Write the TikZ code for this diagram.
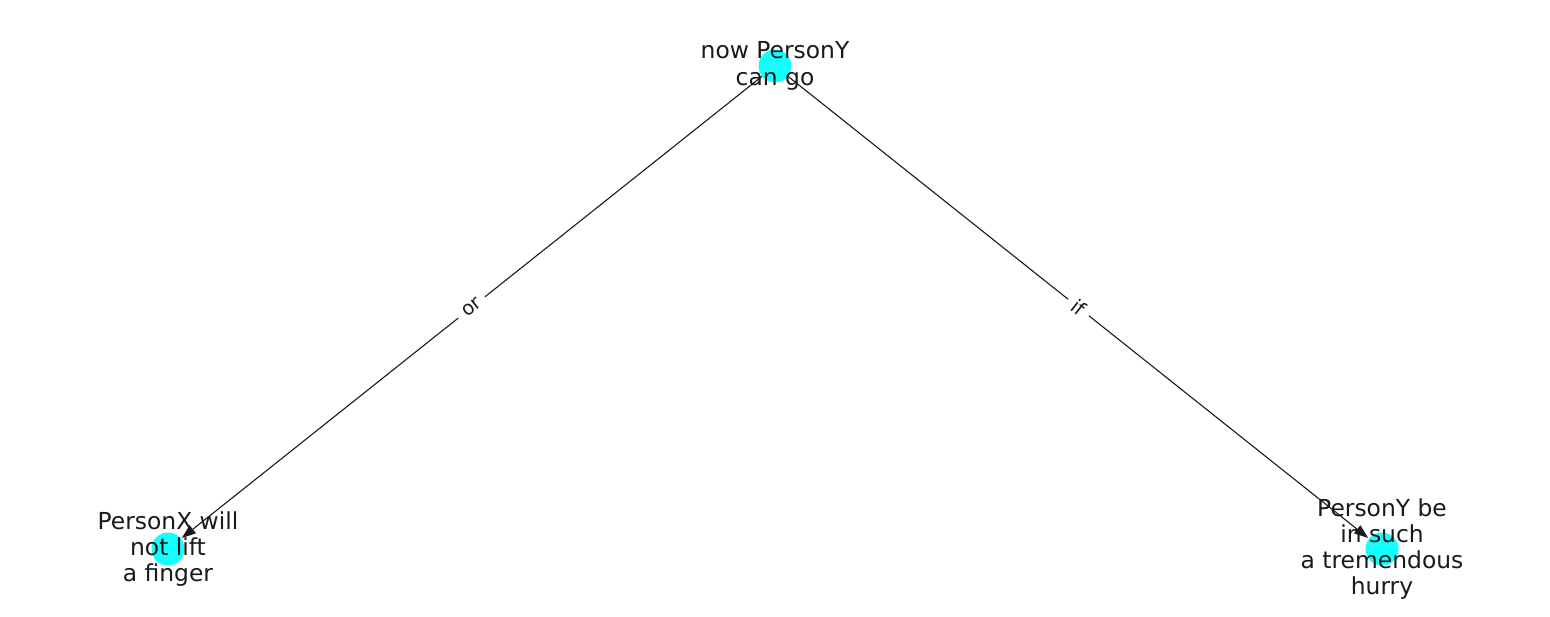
\documentclass[tikz,border=0pt]{standalone}
\usepackage{fontspec}
\setmainfont{DejaVu Sans}
\usetikzlibrary{positioning, calc}
\usetikzlibrary{arrows.meta}
\definecolor{nodecyan}{HTML}{12FFFF}
\definecolor{inkgray}{HTML}{1A1A1A}

\begin{document}
\begin{tikzpicture}[x=1pt,y=-1pt,draw=inkgray,text=inkgray]
	\def \toprow{66}
	\def \botrow{549}
	\tikzstyle{c-node}=[circle,fill=nodecyan,draw=none,inner sep=0pt,minimum size=33pt]
	\tikzstyle{annot} = [align=center,font=\fontsize{23.4}{26.3}\selectfont]
	\tikzstyle{rel} = [-{Triangle[length=14pt,width=10pt]},line width=1.1pt,shorten >=1pt]
	\tikzstyle{rel-label} = [fill=white,inner sep=7pt,sloped,midway,font=\fontsize{19.5}{21}\selectfont]
	\useasboundingbox (0,0) rectangle (1550,616);

	% nodes
	\node[c-node]	(go)	at (775,\toprow)	{};
	\node[c-node]	(lift)	at (168,\botrow)	{};
	\node[c-node]	(hurry)	at (1382,\botrow)	{};

	% labels
	\node[annot]	(go-label)	at (go)		{now PersonY\\can go};
	\node[annot]	(lift-label)	at (lift)	{PersonX will\\not lift\\a finger};
	\node[annot]	(hurry-label)	at (hurry)	{PersonY be\\in such\\a tremendous\\hurry};

	% relations
	\draw[rel] (go) -- node[rel-label] {or} (lift);
	\draw[rel] (go) -- node[rel-label] {if} (hurry);
\end{tikzpicture}
\end{document}
